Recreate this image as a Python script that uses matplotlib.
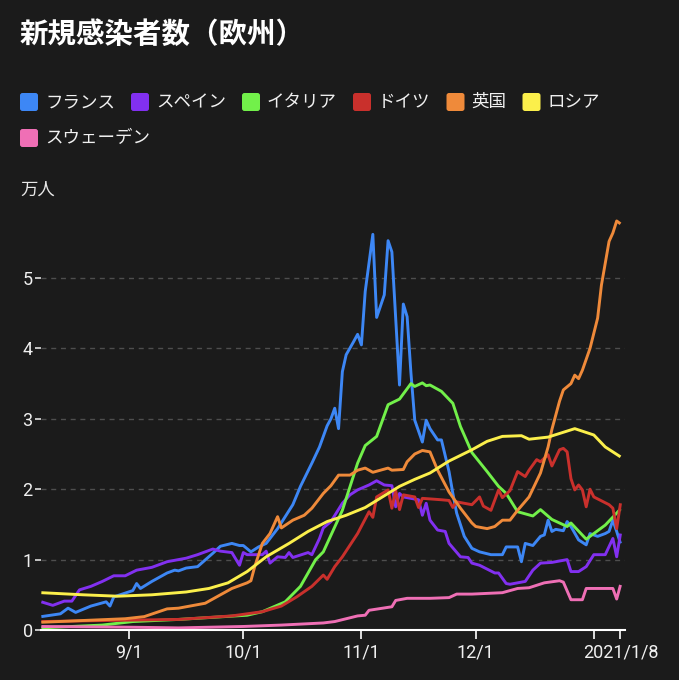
import matplotlib
matplotlib.use("Agg")
import matplotlib.pyplot as plt
import matplotlib.dates as mdates
from matplotlib.patches import FancyBboxPatch
from matplotlib.transforms import IdentityTransform
import pandas as pd

plt.rcParams['font.family'] = ['Noto Sans CJK JP', 'DejaVu Sans']

BG = '#1b1b1b'
title = '新規感染者数（欧州）'
unit_label = '万人'
series_names = ['フランス', 'スペイン', 'イタリア', 'ドイツ', '英国', 'ロシア', 'スウェーデン']
series_colors = ['#3d87f5', '#8230f0', '#72f04a', '#c9302c', '#ef8a3a', '#fbef4b', '#ef6fb5']

# dates as MM-DD (Aug-Dec = 2020, Jan = 2021); values in 万人
france_dates = ['08-09','08-14','08-16','08-18','08-22','08-26','08-27','08-28','09-02','09-03','09-04','09-07',
                '09-11','09-13','09-14','09-16','09-19','09-23','09-25','09-28','09-30','10-01','10-03','10-05',
                '10-07','10-10','10-12','10-14','10-16','10-19','10-21','10-23','10-24','10-25','10-26',
                '10-27','10-28','10-30','10-31','11-01','11-02','11-04','11-05','11-07','11-08','11-09','11-11',
                '11-12','11-13','11-14','11-15','11-17','11-18','11-19','11-21','11-22','11-24','11-25','11-26',
                '11-28','11-30','12-02','12-05','12-08','12-09','12-12','12-13','12-14','12-16','12-18','12-19',
                '12-20','12-21','12-22','12-24','12-25','12-26','12-28','12-30','12-31','01-02','01-04','01-05',
                '01-06','01-07','01-08']
france_vals = [0.19,0.23,0.31,0.25,0.34,0.40,0.34,0.47,0.56,0.66,0.59,0.69,
               0.81,0.85,0.84,0.88,0.90,1.09,1.19,1.23,1.20,1.20,1.11,1.18,
               1.23,1.44,1.61,1.78,2.04,2.37,2.60,2.90,3.00,3.15,2.86,
               3.67,3.91,4.10,4.20,4.05,4.81,5.62,4.44,4.76,5.53,5.37,3.48,
               4.63,4.45,3.65,2.98,2.67,2.98,2.86,2.70,2.70,2.25,1.94,1.66,
               1.33,1.16,1.11,1.07,1.07,1.18,1.18,0.97,1.23,1.20,1.33,1.35,
               1.56,1.40,1.43,1.41,1.54,1.47,1.28,1.21,1.37,1.33,1.37,1.40,
               1.56,1.40,1.23]

spain_dates = ['08-09','08-12','08-15','08-17','08-19','08-22','08-25','08-28','08-31','09-03','09-07','09-11',
               '09-14','09-16','09-19','09-23','09-25','09-28','09-30','10-01','10-02','10-06','10-07','10-08',
               '10-10','10-12','10-13','10-14','10-18','10-19','10-21','10-22','10-24','10-27','10-29','10-31',
               '11-03','11-05','11-07','11-09','11-10','11-11','11-12','11-16','11-17','11-18','11-19','11-21',
               '11-23','11-24','11-27','11-29','11-30','12-02','12-06','12-07','12-09','12-10','12-11','12-14',
               '12-16','12-18','12-21','12-25','12-26','12-28','12-30','01-01','01-04','01-06','01-07','01-08']
spain_vals = [0.40,0.35,0.41,0.41,0.57,0.62,0.69,0.77,0.77,0.85,0.89,0.97,
              1.00,1.02,1.07,1.15,1.12,1.10,0.92,1.10,1.07,1.07,1.12,0.95,
              1.04,1.03,1.10,1.03,1.10,1.07,1.30,1.45,1.54,1.80,1.92,1.99,
              2.06,2.12,2.06,2.05,1.75,1.94,1.89,1.85,1.63,1.80,1.56,1.42,
              1.40,1.23,1.04,1.03,0.95,0.92,0.81,0.81,0.66,0.65,0.66,0.69,
              0.85,0.95,0.96,1.00,0.83,0.83,0.90,1.07,1.07,1.30,1.04,1.37]

italy_dates = ['08-09','08-25','09-02','09-14','10-02','10-06','10-12','10-16','10-20','10-22','10-27','10-31',
               '11-02','11-05','11-08','11-11','11-14','11-15','11-17','11-18','11-19','11-22','11-25','11-27','11-30',
               '12-04','12-07','12-09','12-12','12-16','12-18','12-21','12-25','12-26','12-30','01-02','01-04',
               '01-07','01-08']
italy_vals = [0.03,0.07,0.12,0.15,0.21,0.26,0.40,0.62,1.00,1.11,1.70,2.37,
              2.62,2.75,3.20,3.28,3.50,3.46,3.51,3.47,3.48,3.39,3.22,2.89,2.52,
              2.25,2.04,1.94,1.68,1.62,1.71,1.57,1.47,1.52,1.29,1.41,1.49,
              1.66,1.72]

germany_dates = ['08-09','09-01','09-14','09-28','10-06','10-11','10-15','10-19','10-22','10-23','10-25','10-27',
                 '10-31','11-03','11-04','11-05','11-08','11-09','11-10','11-11','11-12','11-15','11-16','11-17',
                 '11-22','11-24','11-25','11-26','11-30','12-02','12-03','12-05','12-07','12-08','12-10','12-12',
                 '12-14','12-15','12-17','12-18','12-20','12-21','12-23','12-24','12-25','12-26','12-27','12-28',
                 '12-29','12-30','12-31','01-01','01-05','01-06','01-07','01-08']
germany_vals = [0.12,0.14,0.15,0.20,0.26,0.34,0.47,0.62,0.78,0.72,0.90,1.04,
                1.37,1.68,1.60,1.89,1.99,1.73,1.98,1.71,1.92,1.89,1.74,1.87,
                1.85,1.84,1.74,1.82,1.78,1.89,1.76,1.70,1.99,1.88,1.98,2.25,
                2.18,2.27,2.42,2.39,2.49,2.33,2.56,2.58,2.53,2.15,1.99,2.06,
                1.99,1.75,2.00,1.89,1.78,1.73,1.44,1.80]

uk_dates = ['08-09','08-31','09-05','09-11','09-14','09-16','09-21','09-28','10-02','10-03','10-04','10-06',
            '10-08','10-10','10-11','10-14','10-17','10-19','10-22','10-24','10-26','10-29','10-31','11-02',
            '11-04','11-08','11-09','11-12','11-13','11-15','11-17','11-19','11-21','11-24','11-27','11-30',
            '12-01','12-04','12-06','12-08','12-10','12-12','12-15','12-18','12-20','12-21','12-22','12-23',
            '12-24','12-26','12-27','12-28','12-29','12-31','01-02','01-03','01-05','01-06','01-07','01-08']
uk_vals = [0.11,0.16,0.19,0.30,0.31,0.33,0.38,0.59,0.67,0.70,0.90,1.23,
           1.37,1.61,1.45,1.56,1.63,1.73,1.94,2.05,2.20,2.20,2.27,2.30,
           2.24,2.30,2.27,2.28,2.39,2.50,2.55,2.53,2.27,1.96,1.73,1.52,
           1.47,1.44,1.47,1.56,1.56,1.70,1.89,2.23,2.60,2.85,3.05,3.25,
           3.41,3.50,3.62,3.57,3.69,4.00,4.43,4.90,5.52,5.64,5.81,5.77]

russia_dates = ['08-09','08-20','08-29','09-07','09-16','09-22','09-27','10-02','10-07','10-13','10-18','10-23',
                '10-28','11-02','11-11','11-15','11-19','11-24','11-30','12-04','12-08','12-13','12-15','12-20',
                '12-27','01-01','01-04','01-08']
russia_vals = [0.53,0.50,0.48,0.50,0.54,0.59,0.67,0.83,1.04,1.23,1.40,1.54,
               1.63,1.74,2.04,2.14,2.23,2.40,2.56,2.68,2.75,2.76,2.71,2.74,
               2.86,2.77,2.60,2.46]

sweden_dates = ['08-09','09-01','09-14','10-01','10-11','10-22','10-25','10-31','11-02','11-03','11-09','11-10',
                '11-13','11-19','11-24','11-26','11-30','12-08','12-12','12-15','12-19','12-23','12-24','12-26',
                '12-29','12-30','01-06','01-07','01-08']
sweden_vals = [0.05,0.04,0.03,0.05,0.07,0.10,0.12,0.20,0.21,0.28,0.33,0.42,
               0.45,0.45,0.46,0.51,0.51,0.53,0.59,0.60,0.67,0.70,0.68,0.43,
               0.43,0.59,0.59,0.44,0.64]

y_ticks = [0, 1, 2, 3, 4, 5]
x_tick_dates = ['2020-09-01', '2020-10-01', '2020-11-01', '2020-12-01', '2021-01-01', '2021-01-08']
x_tick_labels = ['9/1', '10/1', '11/1', '12/1', '', '2021/1/8']


def to_dates(mmdd):
    out = []
    for s in mmdd:
        m = int(s[:2])
        year = 2020 if m >= 8 else 2021
        out.append(pd.Timestamp(f'{year}-{s}'))
    return out


series = [
    (france_dates, france_vals),
    (spain_dates, spain_vals),
    (italy_dates, italy_vals),
    (germany_dates, germany_vals),
    (uk_dates, uk_vals),
    (russia_dates, russia_vals),
    (sweden_dates, sweden_vals),
]

W, H = 679, 680
fig = plt.figure(figsize=(W / 100, H / 100), dpi=100)
fig.patch.set_facecolor(BG)

ax_left, ax_right, ax_bottom, ax_top = 41, 625, 630, 215
ax = fig.add_axes([ax_left / W, (H - ax_bottom) / H, (ax_right - ax_left) / W, (ax_bottom - ax_top) / H])
ax.set_facecolor(BG)

for (d, v), c in zip(series, series_colors):
    ax.plot(to_dates(d), v, color=c, lw=2.1, solid_joinstyle='round', solid_capstyle='butt', zorder=3)

px_per_unit = 70.4
ax.set_ylim(0, (ax_bottom - ax_top) / px_per_unit)
sep1 = mdates.date2num(pd.Timestamp('2020-09-01'))
px_per_day = 3.81
ax.set_xlim(sep1 - (129 - ax_left) / px_per_day, sep1 + (ax_right - 129) / px_per_day)

ax.set_yticks(y_ticks)
ax.set_yticklabels([str(t) for t in y_ticks])
ax.yaxis.grid(True, color='#4e4e4e', linestyle=(0, (3.6, 3.4)), linewidth=1.0, zorder=1)
ax.set_axisbelow(True)

ax.set_xticks([mdates.date2num(pd.Timestamp(t)) for t in x_tick_dates])
ax.set_xticklabels(x_tick_labels)

for s in ['top', 'right', 'left']:
    ax.spines[s].set_visible(False)
ax.spines['bottom'].set_color('#ffffff')
ax.spines['bottom'].set_linewidth(1.5)
ax.spines['bottom'].set_zorder(4)

ax.tick_params(axis='x', colors='#ffffff', length=6.5, width=1.2, pad=3, labelsize=13,
               labelcolor='#f0f0f0')
ax.tick_params(axis='y', colors='#e0e0e0', length=4, width=1.2, pad=2, labelsize=13,
               labelcolor='#f0f0f0')
for lab in ax.get_xticklabels() + ax.get_yticklabels():
    lab.set_fontfamily(['Roboto', 'DejaVu Sans'])

# title and unit
fig.text(20 / W, 1 - 35 / H, title, color='#ffffff', fontsize=20.5, fontweight='bold',
         ha='left', va='center')
fig.text(20 / W, 1 - 190 / H, unit_label, color='#e8e8e8', fontsize=12.5, ha='left', va='center')

# legend (flow layout)
fig.canvas.draw()
renderer = fig.canvas.get_renderer()
x = 20
row_y = [102, 138]
row = 0
sq = 18
for name, c in zip(series_names, series_colors):
    t = fig.text(0, 0, name, fontsize=12.6, color='#f0f0f0', ha='left', va='center')
    w = t.get_window_extent(renderer).width
    if x + sq + 7 + w > W - 20:
        row += 1
        x = 20
    yc = H - row_y[row]
    t.set_transform(IdentityTransform())
    t.set_position((x + sq + 7, yc))
    p = FancyBboxPatch((x, yc - sq / 2), sq, sq, boxstyle='round,pad=0,rounding_size=2.5',
                       facecolor=c, edgecolor='none', transform=IdentityTransform())
    fig.add_artist(p)
    x += sq + 7 + w + 16

fig.savefig('out.png', dpi=100, facecolor=BG)
